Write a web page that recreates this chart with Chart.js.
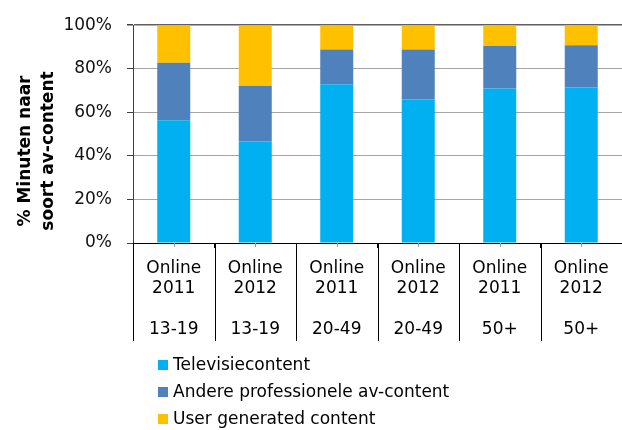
<!DOCTYPE html>
<html>
<head>
<meta charset="utf-8">
<script src="https://cdn.jsdelivr.net/npm/chart.js@4/dist/chart.umd.min.js"></script>
<style>
  html, body { margin: 0; padding: 0; background: #fff; }
  #wrap { width: 622px; height: 430px; position: relative; }
</style>
</head>
<body>
<div id="wrap"><canvas id="c" width="622" height="430"></canvas></div>
<script>
const periods = ["Online 2011", "Online 2012", "Online 2011", "Online 2012", "Online 2011", "Online 2012"];
const groups = ["13-19", "13-19", "20-49", "20-49", "50+", "50+"];
const yTicks = [0, 20, 40, 60, 80, 100];
const seriesNames = ["Televisiecontent", "Andere professionele av-content", "User generated content"];
const televisie = [56.4, 46.6, 72.9, 65.9, 70.9, 71.4];
const andere = [26.4, 25.5, 15.9, 22.9, 19.6, 19.4];
const ugc = [17.2, 27.9, 11.2, 11.2, 9.5, 9.2];
const yTitle = ["% Minuten naar", "soort av-content"];

const FONT = "'DejaVu Sans', Verdana, sans-serif";
const colors = ["#00B0F0", "#4F81BD", "#FFC000"];

const labels = periods.map((p, i) => { const parts = p.split(" "); return [parts[0], parts[1], "", groups[i]]; });

const extras = {
  id: 'extras',
  afterDraw(chart) {
    const ctx = chart.ctx;
    const xs = chart.scales.x;
    const area = chart.chartArea;
    ctx.save();
    // category separators through the label area
    ctx.strokeStyle = '#000';
    ctx.lineWidth = 1;
    for (let i = 0; i < periods.length; i++) {
      const x = Math.round(xs.getPixelForValue(i - 0.5)) + 0.5;
      ctx.beginPath();
      ctx.moveTo(x, area.bottom);
      ctx.lineTo(x, 341);
      ctx.stroke();
    }
    // small center ticks
    ctx.strokeStyle = '#999';
    for (let i = 0; i < periods.length; i++) {
      const x = Math.round(xs.getPixelForValue(i)) + 0.5;
      ctx.beginPath();
      ctx.moveTo(x, area.bottom);
      ctx.lineTo(x, area.bottom + 4);
      ctx.stroke();
    }
    // y-axis title
    ctx.fillStyle = '#000';
    ctx.font = "bold 17px " + FONT;
    ctx.textAlign = 'center';
    ctx.textBaseline = 'middle';
    ctx.translate(38, 151);
    ctx.rotate(-Math.PI / 2);
    ctx.fillText(yTitle[0], 0, -12);
    ctx.fillText(yTitle[1], 0, 11);
    ctx.setTransform(1, 0, 0, 1, 0, 0);
    // legend
    ctx.font = "17px " + FONT;
    ctx.textAlign = 'left';
    chart.data.datasets.forEach((ds, i) => {
      const cy = 365 + i * 27;
      ctx.fillStyle = ds.backgroundColor;
      ctx.fillRect(158, cy - 5, 10, 10);
      ctx.fillStyle = '#000';
      ctx.fillText(ds.label, 173, cy + 1);
    });
    ctx.restore();
  }
};

new Chart(document.getElementById('c'), {
  type: 'bar',
  data: {
    labels: labels,
    datasets: [
      { label: seriesNames[0], data: televisie, backgroundColor: colors[0] },
      { label: seriesNames[1], data: andere, backgroundColor: colors[1] },
      { label: seriesNames[2], data: ugc, backgroundColor: colors[2] }
    ]
  },
  options: {
    responsive: false,
    animation: false,
    maintainAspectRatio: false,
    layout: { padding: { top: 20, right: 0, left: 0, bottom: 0 } },
    datasets: { bar: { categoryPercentage: 1, barPercentage: 0.405, borderWidth: 0 } },
    plugins: { legend: { display: false }, tooltip: { enabled: false } },
    scales: {
      x: {
        stacked: true,
        afterFit: s => { s.height = 430 - 243; },
        border: { color: '#000', width: 1 },
        grid: { offset: true, drawOnChartArea: false, color: '#000', tickLength: 5 },
        ticks: { color: '#000', font: { family: FONT, size: 17, lineHeight: 1.2 }, padding: 10, maxRotation: 0, autoSkip: false }
      },
      y: {
        stacked: true,
        min: 0, max: 100,
        afterFit: s => { s.width = 133; },
        afterBuildTicks: s => { s.ticks = yTicks.map(v => ({ value: v })); },
        border: { color: '#404040', width: 1 },
        grid: {
          color: ctx => ctx.tick && ctx.tick.value === 100 ? '#606060' : '#A6A6A6',
          lineWidth: ctx => ctx.tick && ctx.tick.value === 100 ? 1.5 : 1,
          tickColor: '#404040',
          tickLength: 6
        },
        ticks: { color: '#111', font: { family: FONT, size: 17 }, padding: 15, callback: v => v + '%' }
      }
    }
  },
  plugins: [extras]
});
</script>
</body>
</html>
